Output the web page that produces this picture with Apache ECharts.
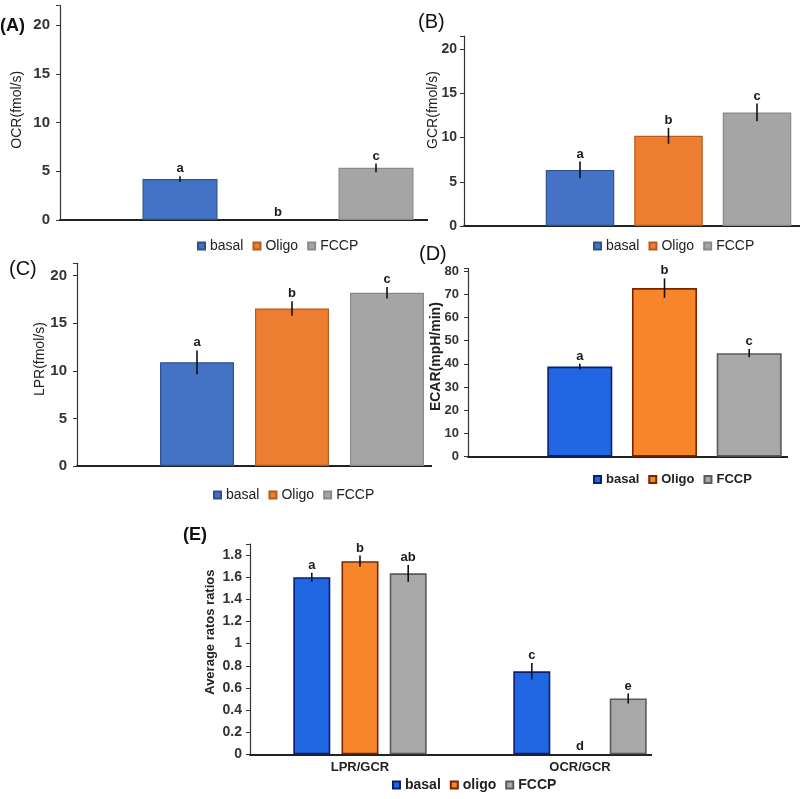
<!DOCTYPE html>
<html>
<head>
<meta charset="utf-8">
<script src="https://cdn.jsdelivr.net/npm/echarts@6/dist/echarts.min.js"></script>
<style>
    body { margin: 0; background: #fff; }
    #wrap { position: relative; width: 800px; height: 799px; overflow: hidden; }
    .panel { position: absolute; }
</style>
</head>
<body>
<div id="wrap">
    <div class="panel" id="pA" style="left:0;top:0;width:428px;height:262px"></div>
    <div class="panel" id="pB" style="left:400px;top:0;width:400px;height:262px"></div>
    <div class="panel" id="pC" style="left:0;top:250px;width:432px;height:262px"></div>
    <div class="panel" id="pD" style="left:400px;top:240px;width:388px;height:262px"></div>
    <div class="panel" id="pE" style="left:180px;top:520px;width:472px;height:279px"></div>
</div>
<script>
    const FONT = 'Liberation Sans, Arial, sans-serif';

    // treatments, in bar order
    const treatments = ['basal', 'Oligo', 'FCCP'];
    const treatmentsE = ['basal', 'oligo', 'FCCP'];

    // (A) OCR
    const ocrMean = [4.2, 0, 5.35];
    const ocrErr = [0.3, 0, 0.45];
    const ocrLetters = ['a', 'b', 'c'];
    // (B) GCR
    const gcrMean = [6.35, 10.2, 12.85];
    const gcrErr = [0.95, 0.9, 1.0];
    const gcrLetters = ['a', 'b', 'c'];
    // (C) LPR
    const lprMean = [10.9, 16.55, 18.2];
    const lprErr = [1.25, 0.75, 0.6];
    const lprLetters = ['a', 'b', 'c'];
    // (D) ECAR
    const ecarMean = [38.8, 72.6, 44.6];
    const ecarErr = [1.2, 4.2, 1.8];
    const ecarLetters = ['a', 'b', 'c'];
    // (E) ratios
    const ratioCategories = ['LPR/GCR', 'OCR/GCR'];
    const ratioBasal = [1.6, 0.75];
    const ratioOligo = [1.745, 0];
    const ratioFccp = [1.635, 0.505];
    const ratioBasalErr = [0.04, 0.075];
    const ratioOligoErr = [0.05, 0];
    const ratioFccpErr = [0.075, 0.045];
    const ratioBasalLetters = ['a', 'c'];
    const ratioOligoLetters = ['b', 'd'];
    const ratioFccpLetters = ['ab', 'e'];

    const excelColors = [
        {color: '#4472C4', borderColor: '#2F528F'},
        {color: '#ED7D31', borderColor: '#B85A1B'},
        {color: '#A5A5A5', borderColor: '#8A8A8A'}
    ];
    const darkColors = [
        {color: '#2167E3', borderColor: '#0B1F6E'},
        {color: '#F7852A', borderColor: '#7A2400'},
        {color: '#A8A8A8', borderColor: '#5A5A5A'}
    ];

    function errSeries(mean, err, letters, offset) {
        return {
            type: 'custom', silent: true, z: 5,
            data: mean.map((m, i) => [i, m, err[i]]),
            renderItem: function (params, api) {
                let i = params.dataIndex;
                let lo = api.coord([api.value(0), api.value(1) - api.value(2)]);
                let hi = api.coord([api.value(0), api.value(1) + api.value(2)]);
                let x = lo[0] + offset;
                let kids = [];
                if (api.value(2) > 0) {
                    kids.push({type: 'line', shape: {x1: x, y1: lo[1], x2: x, y2: hi[1]},
                        style: {stroke: '#111', lineWidth: 1.6}});
                }
                kids.push({type: 'text', x: x, y: hi[1] - 1, style: {
                    text: letters[i], fill: '#1a1a1a', fontSize: 13, fontWeight: 'bold',
                    fontFamily: FONT, align: 'center', verticalAlign: 'bottom'}});
                return {type: 'group', children: kids};
            }
        };
    }

    function makePanel(id, p) {
        let chart = echarts.init(document.getElementById(id));
        let series = [];
        p.series.forEach(function (s, i) {
            series.push({
                name: s.name, type: 'bar', barWidth: p.barWidth,
                barGap: (p.gap / p.barWidth * 100) + '%',
                itemStyle: {color: p.colors[i].color, borderColor: p.colors[i].borderColor, borderWidth: p.border},
                // a zero bar shows no outline
                data: s.data.map(v => v === 0 ? {value: 0, itemStyle: {borderWidth: 0}} : v)
            });
        });
        p.series.forEach(function (s, i) {
            series.push(errSeries(s.data, s.err, s.letters, (i - 1) * (p.barWidth + p.gap)));
        });
        chart.setOption({
            animation: false,
            title: {text: p.label, left: p.labelPos[0], top: p.labelPos[1], padding: 0,
                textStyle: {fontSize: p.labelFont, fontWeight: p.labelWeight, color: '#111', fontFamily: FONT}},
            legend: {
                data: p.series.map(s => s.name), left: p.legendPos[0], top: p.legendPos[1], padding: 0,
                icon: 'rect', itemWidth: 7, itemHeight: 7, itemGap: 9,
                textStyle: {fontSize: p.legendFont, fontWeight: p.legendWeight, color: '#222', fontFamily: FONT}
            },
            grid: Object.assign({outerBoundsMode: 'none', containLabel: false}, p.grid),
            xAxis: {
                type: 'category', data: p.categories,
                axisLine: {lineStyle: {color: '#222', width: 2}},
                axisTick: {show: false},
                axisLabel: {show: p.showCats, margin: 7, fontSize: 13, fontWeight: 'bold', color: '#222', fontFamily: FONT}
            },
            yAxis: {
                type: 'value', min: 0, max: p.max, interval: p.interval,
                name: p.yName, nameLocation: 'middle', nameGap: p.nameGap, nameMoveOverlap: false,
                nameTextStyle: {fontSize: p.nameFont, fontWeight: p.nameWeight, color: '#222', fontFamily: FONT,
                    padding: [0, 0, 0, p.nameShift]},
                axisLine: {show: true, lineStyle: {color: '#333', width: 1.2}},
                axisTick: {show: true, length: 4, lineStyle: {color: '#333'}},
                splitLine: {show: false},
                axisLabel: {
                    margin: p.labelMargin, fontSize: p.tickFont, fontWeight: 'bold', color: '#333', fontFamily: FONT,
                    formatter: v => Math.abs(v / p.interval - Math.round(v / p.interval)) < 1e-6 ? String(v) : ''
                }
            },
            series: series
        });
    }

    function oneCategory(mean, err, letters, names) {
        return names.map((n, i) => ({name: n, data: [mean[i]], err: [err[i]], letters: [letters[i]]}));
    }

    makePanel('pA', {
        label: '(A)', labelPos: [0, 17], labelFont: 18, labelWeight: 'bold',
        legendPos: [197, 239], legendFont: 14, legendWeight: 'normal',
        grid: {left: 60, top: 5.5, width: 436, height: 214.5},
        categories: [''], showCats: false, max: 22, interval: 5,
        yName: 'OCR(fmol/s)', nameGap: 36, nameShift: 6, nameFont: 14, nameWeight: 'normal',
        tickFont: 15, labelMargin: 10, barWidth: 75, gap: 23, border: 1.2, colors: excelColors,
        series: oneCategory(ocrMean, ocrErr, ocrLetters, treatments)
    });
    makePanel('pB', {
        label: '(B)', labelPos: [18, 12], labelFont: 20, labelWeight: 'normal',
        legendPos: [193, 239], legendFont: 14, legendWeight: 'normal',
        grid: {left: 64, top: 36, width: 409, height: 190},
        categories: [''], showCats: false, max: 21.5, interval: 5,
        yName: 'GCR(fmol/s)', nameGap: 24, nameShift: 42, nameFont: 14, nameWeight: 'normal',
        tickFont: 14, labelMargin: 7, barWidth: 68.5, gap: 20, border: 1.2, colors: excelColors,
        series: oneCategory(gcrMean, gcrErr, gcrLetters, treatments)
    });
    makePanel('pC', {
        label: '(C)', labelPos: [9, 9], labelFont: 20, labelWeight: 'normal',
        legendPos: [213, 238], legendFont: 14, legendWeight: 'normal',
        grid: {left: 77, top: 13.3, width: 430, height: 202.7},
        categories: [''], showCats: false, max: 21.3, interval: 5,
        yName: 'LPR(fmol/s)', nameGap: 30, nameShift: 11, nameFont: 14, nameWeight: 'normal',
        tickFont: 15, labelMargin: 10, barWidth: 74, gap: 21, border: 1.2, colors: excelColors,
        series: oneCategory(lprMean, lprErr, lprLetters, treatments)
    });
    makePanel('pD', {
        label: '(D)', labelPos: [19, 4], labelFont: 20, labelWeight: 'normal',
        legendPos: [193, 233], legendFont: 13, legendWeight: 'bold',
        grid: {left: 68, top: 28.6, width: 393, height: 188.1},
        categories: [''], showCats: false, max: 81, interval: 10,
        yName: 'ECAR(mpH/min)', nameGap: 25, nameShift: 12, nameFont: 14, nameWeight: 'bold',
        tickFont: 13, labelMargin: 9, barWidth: 65, gap: 19.7, border: 1.6, colors: darkColors,
        series: oneCategory(ecarMean, ecarErr, ecarLetters, treatments)
    });
    makePanel('pE', {
        label: '(E)', labelPos: [3, 6], labelFont: 18, labelWeight: 'bold',
        legendPos: [212, 258], legendFont: 14, legendWeight: 'bold',
        grid: {left: 70, top: 24, width: 440, height: 210.3},
        categories: ratioCategories, showCats: true, max: 1.9, interval: 0.2,
        yName: 'Average ratos ratios', nameGap: 33, nameShift: 34, nameFont: 13, nameWeight: 'bold',
        tickFont: 14, labelMargin: 8, barWidth: 37, gap: 11.2, border: 1.6, colors: darkColors,
        series: [
            {name: treatmentsE[0], data: ratioBasal, err: ratioBasalErr, letters: ratioBasalLetters},
            {name: treatmentsE[1], data: ratioOligo, err: ratioOligoErr, letters: ratioOligoLetters},
            {name: treatmentsE[2], data: ratioFccp, err: ratioFccpErr, letters: ratioFccpLetters}
        ]
    });
</script>
</body>
</html>
